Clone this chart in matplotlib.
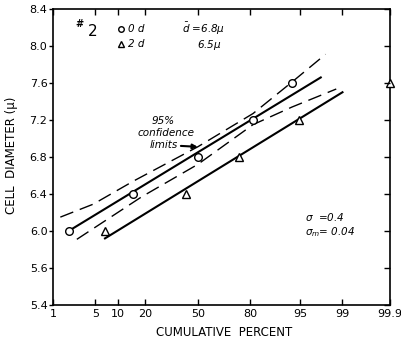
import numpy as np
import matplotlib
matplotlib.use('Agg')
import matplotlib.pyplot as plt
from statistics import NormalDist

# cell diameter vs cumulative percent (probability paper)
pct_0d = [1.9, 14.8, 50, 81.3, 93.5]
diam_0d = [6.0, 6.4, 6.8, 7.2, 7.6]
pct_2d = [6.8, 42.5, 74.6, 94.9, 99.9]
diam_2d = [6.0, 6.4, 6.8, 7.2, 7.6]

# fitted lines
fit_0d_pct = [1.9, 97.6]
fit_0d_diam = [6.0, 7.66]
fit_2d_pct = [6.8, 99.0]
fit_2d_diam = [5.92, 7.50]

# 95% confidence limits (0d)
upper_pct = [1.36, 4.65, 15.1, 50, 81.3, 93.5, 98.0]
upper_diam = [6.15, 6.29, 6.54, 6.91, 7.27, 7.61, 7.91]
lower_pct = [2.6, 18.4, 50, 81.3, 93.5, 98.7]
lower_diam = [5.91, 6.37, 6.72, 7.15, 7.34, 7.535]

xticks = [1, 5, 10, 20, 50, 80, 95, 99, 99.9]
xticklabels = ['1', '5', '10', '20', '50', '80', '95', '99', '99.9']
yticks = [5.2, 5.6, 6.0, 6.4, 6.8, 7.2, 7.6, 8.0, 8.4]
yticklabels = ['5.4', '5.6', '6.0', '6.4', '6.8', '7.2', '7.6', '8.0', '8.4']

nd = NormalDist()
probit = np.vectorize(lambda p: nd.inv_cdf(min(max(p / 100.0, 1e-7), 1 - 1e-7)), otypes=[float])
inv_probit = np.vectorize(lambda z: nd.cdf(z) * 100.0, otypes=[float])

fig = plt.figure(figsize=(4.01, 3.42), dpi=100)
ax = fig.add_axes([53 / 401, 1 - 305 / 342, 337 / 401, 296 / 342])
ax.set_xscale('function', functions=(probit, inv_probit))
ax.set_xlim(1, 99.9)
ax.set_ylim(5.2, 8.4)

ax.plot(fit_0d_pct, fit_0d_diam, color='black', lw=1.5, zorder=2)
ax.plot(fit_2d_pct, fit_2d_diam, color='black', lw=1.5, zorder=2)
ax.plot(upper_pct, upper_diam, color='black', lw=1.0, dashes=(10, 5), zorder=2)
ax.plot(lower_pct, lower_diam, color='black', lw=1.0, dashes=(10, 5), zorder=2)

ax.plot(pct_0d, diam_0d, 'o', ms=5.5, mfc='white', mec='black', mew=1.0, zorder=3)
ax.plot(pct_2d, diam_2d, '^', ms=5.5, mfc='white', mec='black', mew=1.0, zorder=3, clip_on=False)

ax.set_xticks(xticks)
ax.set_xticklabels(xticklabels)
ax.xaxis.set_minor_locator(matplotlib.ticker.NullLocator())
ax.set_yticks(yticks)
ax.set_yticklabels(yticklabels)
ax.tick_params(axis='x', direction='in', top=True, length=4, width=1, labelsize=8, pad=3)
ax.tick_params(axis='y', direction='out', length=3, width=1, labelsize=8, pad=1)
for s in ax.spines.values():
    s.set_linewidth(1.2)

ax2 = ax.twinx()
ax2.set_ylim(ax.get_ylim())
ax2.set_yticks(yticks)
ax2.tick_params(axis='y', direction='in', length=4, width=1, labelright=False)
for s in ax2.spines.values():
    s.set_visible(False)

ax.set_ylabel('CELL  DIAMETER (\u03bc)', fontsize=8.5)
ax.yaxis.set_label_coords((18 - 53) / 337, (305 - 155) / 296)
ax.set_xlabel('CUMULATIVE  PERCENT', fontsize=8.5, va='top')
ax.xaxis.set_label_coords((224 - 53) / 337, (305 - 326) / 296)

def fx(px):
    return (px - 53) / 337

def fy(py):
    return (305 - py) / 296

tr = ax.transAxes
ax.text(fx(79), fy(24), '#', fontsize=7, fontweight='bold', ha='center', va='center', transform=tr)
ax.text(fx(93), fy(31), '2', fontsize=11, ha='center', va='center', transform=tr)
ax.plot([fx(121)], [fy(29)], 'o', ms=4, mfc='white', mec='black', mew=1.0, transform=tr, clip_on=False)
ax.plot([fx(121)], [fy(44)], '^', ms=4.5, mfc='white', mec='black', mew=1.0, transform=tr, clip_on=False)
ax.text(fx(128), fy(29), '0 d', fontsize=7.5, style='italic', va='center', transform=tr)
ax.text(fx(128), fy(44), '2 d', fontsize=7.5, style='italic', va='center', transform=tr)
ax.text(fx(182), fy(29), r'$\bar{d}$ =6.8$\mu$', fontsize=7.5, style='italic', va='center', transform=tr)
ax.text(fx(197), fy(45), r'6.5$\mu$', fontsize=7.5, style='italic', va='center', transform=tr)

ax.text(fx(163), fy(121), '95%', fontsize=7.5, style='italic', ha='center', va='center', transform=tr)
ax.text(fx(166), fy(133), 'confidence', fontsize=7.5, style='italic', ha='center', va='center', transform=tr)
ax.annotate('limits', xy=(50, 6.91), xycoords='data',
            xytext=(fx(164), fy(145)), textcoords='axes fraction',
            fontsize=7.5, style='italic', ha='center', va='center',
            arrowprops=dict(arrowstyle='-|>', color='black', lw=1.5,
                            mutation_scale=7, shrinkA=0, shrinkB=0))

ax.text(fx(305), fy(217), r'$\sigma$  =0.4', fontsize=7.5, style='italic', va='center', transform=tr)
ax.text(fx(305), fy(232), r'$\sigma_m$= 0.04', fontsize=7.5, style='italic', va='center', transform=tr)

fig.savefig('out.png', dpi=100)
